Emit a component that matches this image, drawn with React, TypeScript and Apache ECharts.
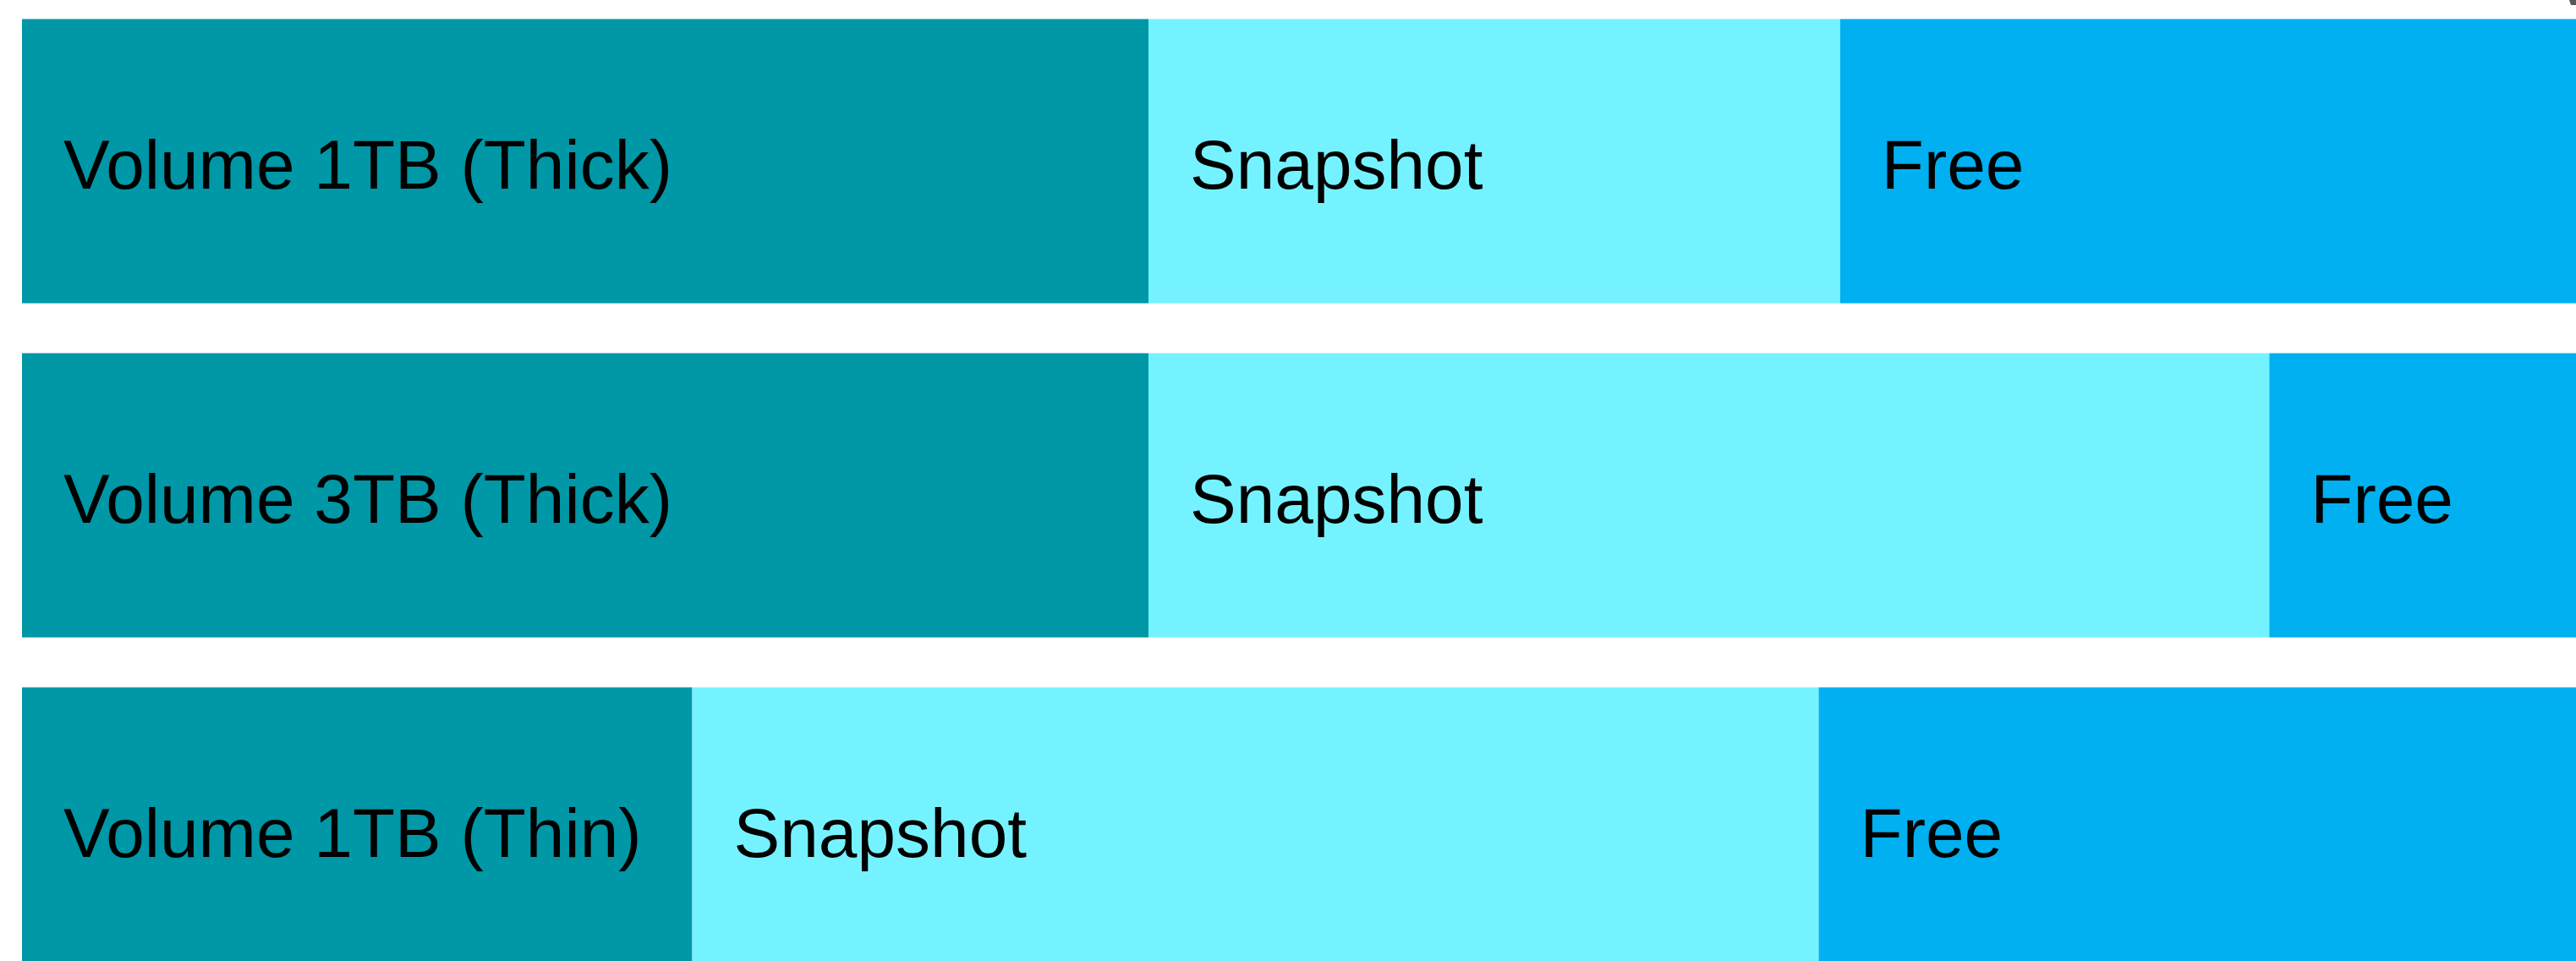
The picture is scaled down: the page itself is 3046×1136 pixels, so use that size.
import React, { useEffect, useRef } from "react";
import * as echarts from "echarts";

const categories = ["Volume 1TB (Thick)", "Volume 3TB (Thick)", "Volume 1TB (Thin)"];
const volumeValues = [1.0, 1.0, 0.595];
const snapshotValues = [0.614, 0.995, 1.0];
const freeValues = [1.386, 1.005, 1.405];
const seriesNames = ["Volume", "Snapshot", "Free"];
const colors = ["#0097A7", "#75F2FF", "#00B0F0"];

export default function App() {
  const ref = useRef<HTMLDivElement>(null);
  useEffect(() => {
    if (!ref.current) return;
    const chart = echarts.init(ref.current, undefined, { renderer: "svg" });
    const labelBase = {
      show: true,
      position: "insideLeft",
      distance: 49,
      offset: [0, 4],
      color: "#000000",
      fontSize: 82,
      fontFamily: "'Liberation Sans', Arial, sans-serif",
    };
    const values = [volumeValues, snapshotValues, freeValues];
    chart.setOption({
      animation: false,
      backgroundColor: "#ffffff",
      grid: { left: 26, top: 13, width: 3996, height: 1185 },
      xAxis: {
        type: "value",
        min: 0,
        max: 3,
        show: false,
      },
      yAxis: {
        type: "category",
        data: categories,
        inverse: true,
        show: false,
      },
      series: seriesNames.map((name, i) => ({
        name,
        type: "bar",
        stack: "total",
        barWidth: 336,
        itemStyle: { color: colors[i] },
        label: {
          ...labelBase,
          formatter: i === 0 ? "{b}" : "{a}",
        },
        data: values[i],
      })),
      graphic: [
        {
          type: "polygon",
          shape: {
            points: [
              [3038, 20],
              [3046, 20],
              [3046, 26],
              [3040, 26],
            ],
          },
          style: { fill: "#595959" },
        },
      ],
    });
    return () => chart.dispose();
  }, []);
  return (
    <div
      style={{
        position: "fixed",
        left: 0,
        top: 0,
        width: 3046,
        height: 1136,
        overflow: "hidden",
        background: "#ffffff",
      }}
    >
      <div
        ref={ref}
        style={{ position: "absolute", left: 0, top: -20, width: 4100, height: 1300 }}
      />
    </div>
  );
}
